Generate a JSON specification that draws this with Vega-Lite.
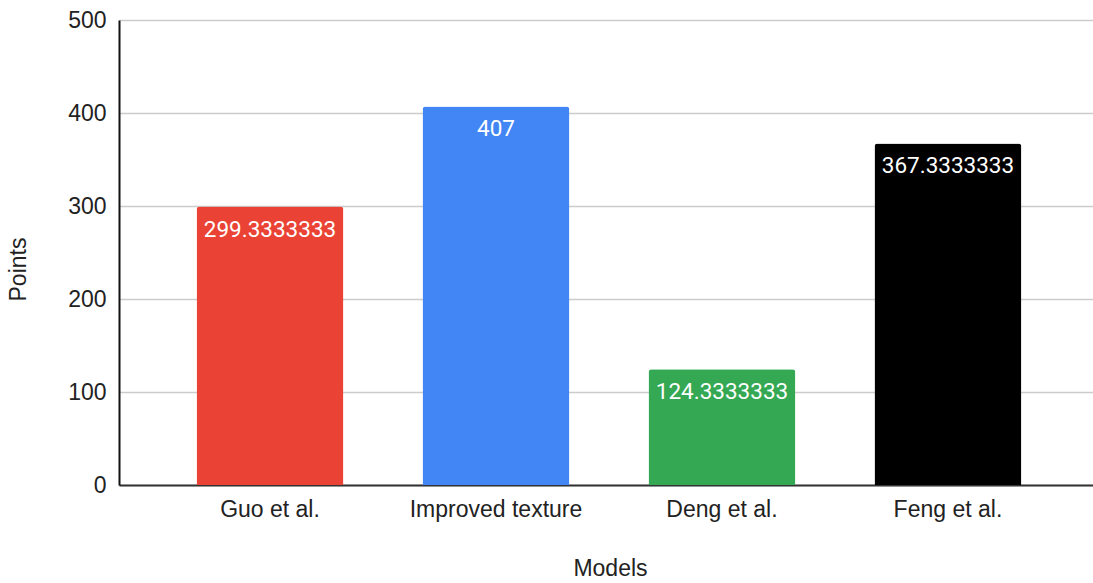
{
  "$schema": "https://vega.github.io/schema/vega-lite/v6.json",
  "autosize": {"type": "none"},
  "padding": {"left": 119, "top": 20, "right": 0, "bottom": 98},
  "width": 974,
  "height": 465,
  "background": "white",
  "config": {
    "view": {"stroke": null},
    "font": "Liberation Sans",
    "axis": {"labelFont": "Liberation Sans", "titleFont": "Liberation Sans"}
  },
  "data": {
    "values": [
      {"model": "Guo et al.", "points": 299.3333333, "color": "#EA4335"},
      {"model": "Improved texture", "points": 407, "color": "#4285F4"},
      {"model": "Deng et al.", "points": 124.3333333, "color": "#34A853"},
      {"model": "Feng et al.", "points": 367.3333333, "color": "#000000"}
    ]
  },
  "encoding": {
    "x": {
      "field": "model",
      "type": "nominal",
      "sort": null,
      "title": "Models",
      "scale": {"paddingInner": 0.35, "paddingOuter": 0.33, "align": 0.52},
      "axis": {
        "labelAngle": 0,
        "labelFontSize": 23,
        "labelColor": "#222222",
        "labelPadding": 13,
        "ticks": false,
        "domainColor": "#333333",
        "domainWidth": 2,
        "titleFontSize": 23,
        "titleFontWeight": "normal",
        "titleColor": "#222222",
        "titlePadding": 36,
        "titleX": 491
      }
    },
    "y": {
      "field": "points",
      "type": "quantitative",
      "title": "Points",
      "scale": {"domain": [0, 500], "nice": false},
      "axis": {
        "values": [0, 100, 200, 300, 400, 500],
        "labelFontSize": 23,
        "labelColor": "#222222",
        "labelPadding": 13,
        "ticks": false,
        "domainColor": "#111111",
        "domainWidth": 2,
        "gridColor": "#cccccc",
        "gridWidth": 1.5,
        "titleFontSize": 23,
        "titleFontWeight": "normal",
        "titleColor": "#222222",
        "titlePadding": 37,
        "titleY": 249
      }
    }
  },
  "layer": [
    {
      "mark": {"type": "bar", "cornerRadiusTopLeft": 3, "cornerRadiusTopRight": 3},
      "encoding": {
        "color": {"field": "color", "type": "nominal", "scale": null, "legend": null}
      }
    },
    {
      "mark": {"type": "text", "baseline": "top", "dy": 12, "fontSize": 22.5, "font": "Roboto", "color": "white"},
      "encoding": {
        "text": {"field": "points", "type": "quantitative", "format": ".7~f"}
      }
    }
  ]
}
